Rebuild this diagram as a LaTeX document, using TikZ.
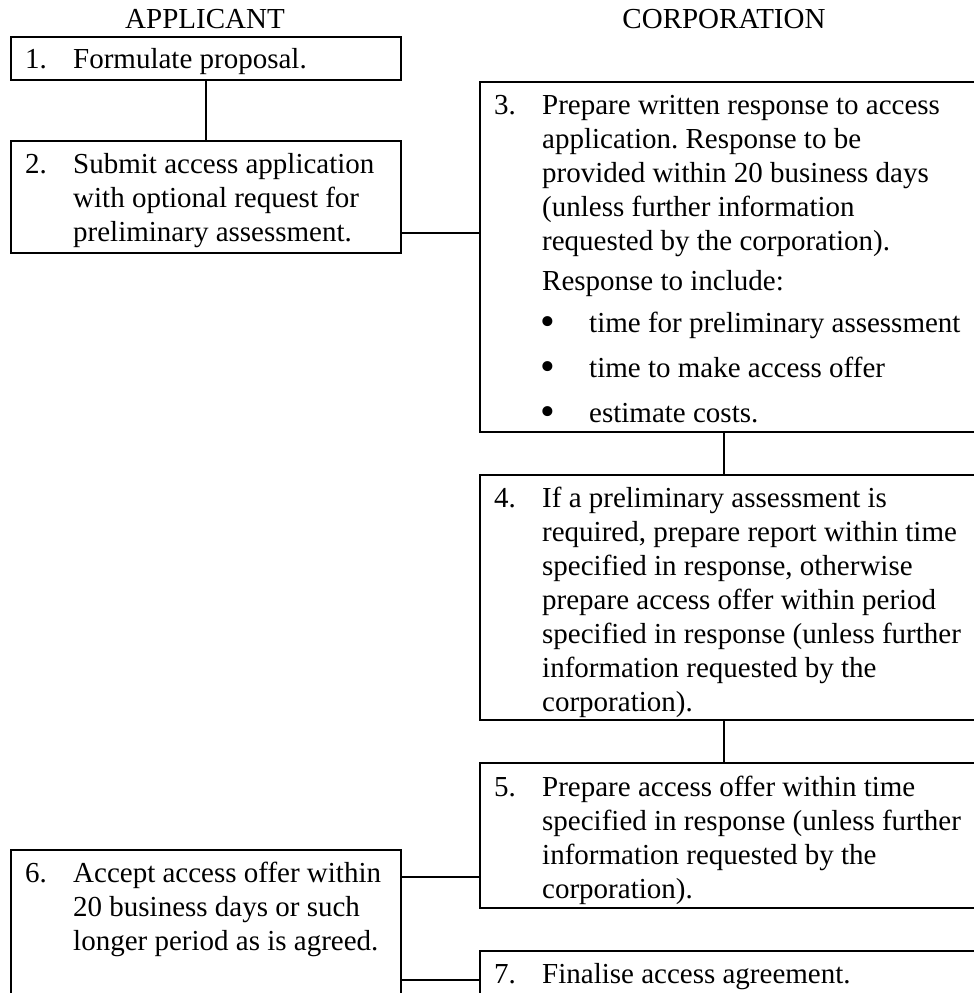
\documentclass[tikz,border=0pt]{standalone}
\usepackage{fontspec}
\setmainfont{Liberation Serif}
\frenchspacing
\begin{document}
\begin{tikzpicture}[x=1pt,y=-1pt,
  box/.style={draw, line width=2.2pt, inner sep=0pt, anchor=north west},
  txt/.style={inner sep=0pt, anchor=base west, align=left, font=\fontsize{29}{34}\selectfont},
  dot/.style={inner sep=0pt, anchor=base west, font=\fontsize{42}{34}\selectfont},
  head/.style={inner sep=0pt, anchor=base, font=\fontsize{29}{34}\selectfont},
  link/.style={line width=2.2pt}]
\useasboundingbox (0,0) rectangle (974,993);
% headers
\node[head] (hA) at (205,28) {APPLICANT};
\node[head] (hC) at (724,28) {CORPORATION};
% boxes
\node[box, minimum width=390pt, minimum height=43pt] (b1) at (10,36) {};
\node[box, minimum width=390pt, minimum height=112pt] (b2) at (10,140) {};
\node[box, minimum width=560pt, minimum height=350pt] (b3) at (479,81) {};
\node[box, minimum width=560pt, minimum height=245pt] (b4) at (479,474) {};
\node[box, minimum width=560pt, minimum height=145pt] (b5) at (479,762) {};
\node[box, minimum width=390pt, minimum height=200pt] (b6) at (10,849) {};
\node[box, minimum width=560pt, minimum height=100pt] (b7) at (479,950) {};
% texts (multi-line nodes are anchored at the baseline of their last line)
\node[txt] (n1) at (25,68) {1.};
\node[txt] (t1) at (73,68) {Formulate proposal.};
\node[txt] (n2) at (25,173) {2.};
\node[txt] (t2) at (73,241) {Submit access application\\with optional request for\\preliminary assessment.};
\node[txt] (n3) at (494,114) {3.};
\node[txt] (t3) at (542,250) {Prepare written response to access\\application. Response to be\\provided within 20 business days\\(unless further information\\requested by the corporation).};
\node[txt] (t3r) at (542,290) {Response to include:};
\node[dot] (d1) at (540,335) {•};
\node[txt] (u1) at (589,332) {time for preliminary assessment};
\node[dot] (d2) at (540,380) {•};
\node[txt] (u2) at (589,377) {time to make access offer};
\node[dot] (d3) at (540,425) {•};
\node[txt] (u3) at (589,422) {estimate costs.};
\node[txt] (n4) at (494,507) {4.};
\node[txt] (t4) at (542,711) {If a preliminary assessment is\\required, prepare report within time\\specified in response, otherwise\\prepare access offer within period\\specified in response (unless further\\information requested by the\\corporation).};
\node[txt] (n5) at (494,796) {5.};
\node[txt] (t5) at (542,898) {Prepare access offer within time\\specified in response (unless further\\information requested by the\\corporation).};
\node[txt] (n6) at (25,882) {6.};
\node[txt] (t6) at (73,950) {Accept access offer within\\20 business days or such\\longer period as is agreed.};
\node[txt] (n7) at (494,983) {7.};
\node[txt] (t7) at (542,983) {Finalise access agreement.};
% connector helpers
\coordinate (colR) at (724,0);
\coordinate (y23) at (0,233);
\coordinate (y65) at (0,877);
\coordinate (y67) at (0,980);
% connectors
\draw[link] (b1.south) -- (b2.north);
\draw[link] (b2.east |- y23) -- (b3.west |- y23);
\draw[link] (b3.south -| colR) -- (b4.north -| colR);
\draw[link] (b4.south -| colR) -- (b5.north -| colR);
\draw[link] (b6.east |- y65) -- (b5.west |- y65);
\draw[link] (b6.east |- y67) -- (b7.west |- y67);
\end{tikzpicture}
\end{document}
